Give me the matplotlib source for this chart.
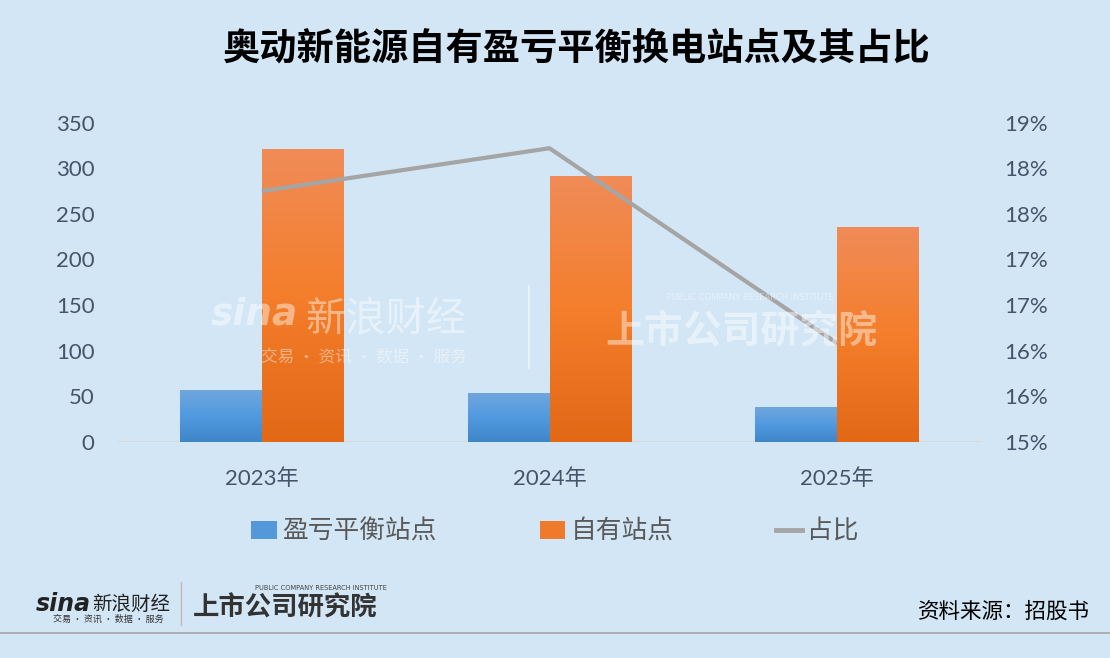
import numpy as np
import matplotlib
matplotlib.use("Agg")
import matplotlib.pyplot as plt
from matplotlib.patches import Patch
from matplotlib.lines import Line2D
from matplotlib.ticker import FuncFormatter

plt.rcParams['font.family'] = ['Lato', 'Noto Sans CJK SC', 'DejaVu Sans']

# data
years = ['2023年', '2024年', '2025年']
breakeven = [57, 53, 38]      # 盈亏平衡站点
owned = [321, 291, 236]       # 自有站点
share = [17.75, 18.22, 16.08]  # 占比 (%)

left_ticks = [0, 50, 100, 150, 200, 250, 300, 350]
right_ticks = [15, 15.5, 16, 16.5, 17, 17.5, 18, 18.5]

bg = '#D3E6F5'
tick_col = '#44546A'


def gradient_bars(ax, bars, top_col, mid_col, bot_col):
    # excel-like vertical gradient fill, clipped to each bar
    cmap = matplotlib.colors.LinearSegmentedColormap.from_list('g', [bot_col, mid_col, top_col])
    grad = np.linspace(0, 1, 256).reshape(-1, 1)
    for b in bars:
        x0, y0 = b.get_x(), b.get_y()
        w, h = b.get_width(), b.get_height()
        im = ax.imshow(grad, cmap=cmap, aspect='auto', origin='lower',
                       extent=[x0, x0 + w, y0, y0 + h], zorder=b.get_zorder())
        im.set_clip_path(b)


fig = plt.figure(figsize=(11.1, 6.58), dpi=100, facecolor=bg)

# faint watermark behind the chart
wm = dict(color='white', alpha=0.45, ha='left', va='center')
fig.text(0.19, 0.522, 'sina', fontsize=27, fontweight='bold', style='italic',
         family=['DejaVu Sans'], **wm)
fig.text(0.275, 0.515, '新浪财经', fontsize=29, family=['Noto Sans CJK SC'], **wm)
fig.text(0.235, 0.457, '交易 · 资讯 · 数据 · 服务', fontsize=12, family=['Noto Sans CJK SC'], **wm)
fig.add_artist(Line2D([0.477, 0.477], [0.44, 0.565], color='white', alpha=0.45, lw=1.5))
fig.text(0.545, 0.497, '上市公司研究院', fontsize=28, fontweight='bold', style='italic',
         family=['Noto Sans CJK SC'], **wm)
fig.text(0.6, 0.548, 'PUBLIC COMPANY RESEARCH INSTITUTE', fontsize=6, family=['DejaVu Sans'], **wm)

ax = fig.add_axes([0.1063, 0.3287, 0.7775, 0.4848])
ax.patch.set_alpha(0)

x = np.arange(len(years))
w = 0.285
b1 = ax.bar(x - w / 2, breakeven, w, color='none', edgecolor='none', zorder=2)
b2 = ax.bar(x + w / 2, owned, w, color='none', edgecolor='none', zorder=2)
gradient_bars(ax, b1, '#70A6DD', '#519AE0', '#3F86C8')
gradient_bars(ax, b2, '#F08C58', '#F47E2B', '#E26816')

ax.set_xlim(-0.5, 2.5)
ax.set_ylim(0, 350)
ax.set_yticks(left_ticks)
ax.set_xticks(x)
ax.set_xticklabels(years)
for s in ax.spines.values():
    s.set_visible(False)
ax.axhline(0, color='#D9D9D9', lw=1.5, zorder=1)
ax.tick_params(axis='both', length=0, labelsize=16, colors=tick_col)
ax.tick_params(axis='y', pad=17)
ax.tick_params(axis='x', pad=19)

ax2 = ax.twinx()
ax2.plot(x, share, color='#A5A5A5', lw=3, zorder=3, solid_capstyle='butt')
ax2.set_ylim(15, 18.5)
ax2.set_yticks(right_ticks)
ax2.yaxis.set_major_formatter(FuncFormatter(lambda v, p: f'{int(np.floor(v + 0.5))}%'))
for s in ax2.spines.values():
    s.set_visible(False)
ax2.tick_params(axis='y', length=0, labelsize=16, colors=tick_col, pad=17)

# legend
handles = [Patch(facecolor='#5598DA', label='盈亏平衡站点'),
           Patch(facecolor='#F07A2C', label='自有站点'),
           Line2D([0], [0], color='#A5A5A5', lw=3.5, label='占比')]
fig.legend(handles=handles, loc='center', bbox_to_anchor=(0.5, 0.193), ncol=3,
           frameon=False, fontsize=18.5, labelcolor='#595959', columnspacing=4.0,
           handlelength=1.0, handleheight=0.7, handletextpad=0.2)

# title
fig.text(0.52, 0.924, '奥动新能源自有盈亏平衡换电站点及其占比', ha='center', va='center',
         fontsize=26.8, fontweight='bold', color='black', family=['Noto Sans CJK SC'])

# footer logos and source
fig.text(0.032, 0.082, 'sina', fontsize=17, fontweight='bold', style='italic', color='#222222',
         family=['DejaVu Sans'], ha='left', va='center')
fig.text(0.083, 0.082, '新浪财经', fontsize=14, color='#222222',
         family=['Noto Sans CJK SC'], ha='left', va='center')
fig.text(0.048, 0.059, '交易 · 资讯 · 数据 · 服务', fontsize=6.5, color='#333333',
         family=['Noto Sans CJK SC'], ha='left', va='center')
fig.add_artist(Line2D([0.163, 0.163], [0.05, 0.115], color='#BBBBBB', lw=1))
fig.text(0.174, 0.076, '上市公司研究院', fontsize=19, fontweight='bold', style='italic',
         color='#333333', family=['Noto Sans CJK SC'], ha='left', va='center')
fig.text(0.23, 0.107, 'PUBLIC COMPANY RESEARCH INSTITUTE', fontsize=4.8, color='#444444',
         family=['DejaVu Sans'], ha='left', va='center')
fig.text(0.982, 0.07, '资料来源：招股书', fontsize=15.5, color='black',
         family=['Noto Sans CJK SC'], ha='right', va='center')
fig.add_artist(Line2D([0, 1], [0.038, 0.038], color='#A6A6A6', lw=1.2))

fig.savefig('out.png', dpi=100, facecolor=bg)
